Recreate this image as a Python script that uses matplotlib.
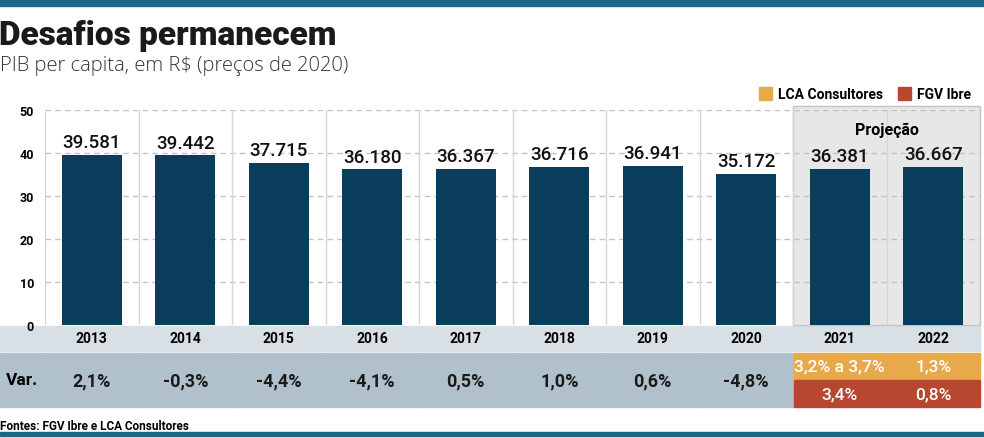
import matplotlib.pyplot as plt
from matplotlib.patches import Rectangle

anos = ['2013', '2014', '2015', '2016', '2017', '2018', '2019', '2020', '2021', '2022']
pib = [39.581, 39.442, 37.715, 36.180, 36.367, 36.716, 36.941, 35.172, 36.381, 36.667]
rotulos = ['39.581', '39.442', '37.715', '36.180', '36.367', '36.716', '36.941', '35.172', '36.381', '36.667']
var = ['2,1%', '-0,3%', '-4,4%', '-4,1%', '0,5%', '1,0%', '0,6%', '-4,8%']
var_lca = ['3,2% a 3,7%', '1,3%']
var_fgv = ['3,4%', '0,8%']

azul = '#0a3d5b'
faixa = '#1b6789'
cinza_ano = '#d8e0e6'
cinza_var = '#b1c1cb'
laranja = '#e8a94b'
vermelho = '#b8472f'
fonte = ['Roboto', 'DejaVu Sans']

W, H = 984, 439
fig = plt.figure(figsize=(W / 100, H / 100), dpi=100)

# camada de fundo em pixels
bg = fig.add_axes([0, 0, 1, 1])
bg.set_xlim(0, W)
bg.set_ylim(H, 0)
bg.axis('off')

x0, x1 = 45, 980
y_top, y_zero = 111, 326
ax = fig.add_axes([x0 / W, 1 - y_zero / H, (x1 - x0) / W, (y_zero - y_top) / H])
ax.patch.set_alpha(0)
ax.set_xlim(-0.5, 9.5)
ax.set_ylim(0, 50)

# projeção sombreada
ax.add_patch(Rectangle((7.5, 0), 2, 51, facecolor='#e7e7e7', edgecolor='#c4c4c4',
                       lw=1, clip_on=False, zorder=0))
ax.text(8.5, 45.5, 'Projeção', ha='center', va='center', fontsize=11.5,
        fontweight='bold', family=fonte)

for y in range(10, 51, 10):
    ax.axhline(y, color='#c3c3c3', lw=1, ls=(0, (4, 3)), zorder=1)
for i in range(11):
    ax.axvline(i - 0.5, color='#d6d6d6', lw=1, zorder=1)

ax.bar(range(10), pib, width=0.64, color=azul, zorder=2)
for i, (v, r) in enumerate(zip(pib, rotulos)):
    ax.text(i, v + 0.9, r, ha='center', va='bottom', fontsize=13.5,
            family=fonte, fontweight='medium', color='#111111', zorder=3)

ax.set_yticks(range(0, 51, 10))
ax.tick_params(axis='y', length=0, labelsize=9, pad=8)
for t in ax.get_yticklabels():
    t.set_fontweight('bold')
    t.set_family(fonte)
ax.set_xticks([])
for s in ax.spines.values():
    s.set_visible(False)

# barras de topo e base
bg.add_patch(Rectangle((0, 0), W, 7, color=faixa))
bg.add_patch(Rectangle((0, 433), W, 4, color=faixa))

bg.text(-1, 36, 'Desafios permanecem', fontsize=24, fontweight='black', va='center',
        family=fonte, color='#1a1a1a')
bg.text(0, 66, 'PIB per capita, em R$ (preços de 2020)', fontsize=14.5, va='center',
        family=['Open Sans', 'DejaVu Sans'], fontweight='light', color='#333333')

# legenda
bg.add_patch(Rectangle((759, 88), 13, 13, color=laranja))
bg.text(778, 95, 'LCA Consultores', fontsize=10, fontweight='bold', va='center',
        family=fonte)
bg.add_patch(Rectangle((898, 88), 13, 13, color=vermelho))
bg.text(917, 95, 'FGV Ibre', fontsize=10, fontweight='bold', va='center',
        family=fonte)

# tabela
cw = (x1 - x0) / 10
bg.add_patch(Rectangle((0, 327), x0, 25, color=cinza_ano))
bg.add_patch(Rectangle((0, 354), x0, 54, color=cinza_var))
bg.text(22, 381, 'Var.', ha='center', va='center', fontsize=12.5, fontweight='bold',
        family=fonte)
for i, a in enumerate(anos):
    cx = x0 + i * cw
    bg.add_patch(Rectangle((cx + 1, 327), cw - 1, 25, color=cinza_ano))
    bg.text(cx + cw / 2, 339.5, a, ha='center', va='center', fontsize=10,
            fontweight='bold', family=fonte)
    if i < 8:
        bg.add_patch(Rectangle((cx + 1, 354), cw - 1, 54, color=cinza_var))
        bg.text(cx + cw / 2, 381, var[i], ha='center', va='center', fontsize=13,
                fontweight='bold', color='#1a1a1a', family=fonte)
    else:
        j = i - 8
        bg.add_patch(Rectangle((cx + 1, 354), cw - 1, 26, color=laranja))
        bg.add_patch(Rectangle((cx + 1, 381), cw - 1, 27, color=vermelho))
        bg.text(cx + cw / 2, 367, var_lca[j], ha='center', va='center', fontsize=12.5,
                color='white', fontweight='medium', family=fonte)
        bg.text(cx + cw / 2, 394.5, var_fgv[j], ha='center', va='center', fontsize=12.5,
                color='white', fontweight='medium', family=fonte)

bg.text(0, 427, 'Fontes: FGV Ibre e LCA Consultores', fontsize=8.5, fontweight='bold',
        va='center', family=fonte)

fig.savefig('out.png', dpi=100)
